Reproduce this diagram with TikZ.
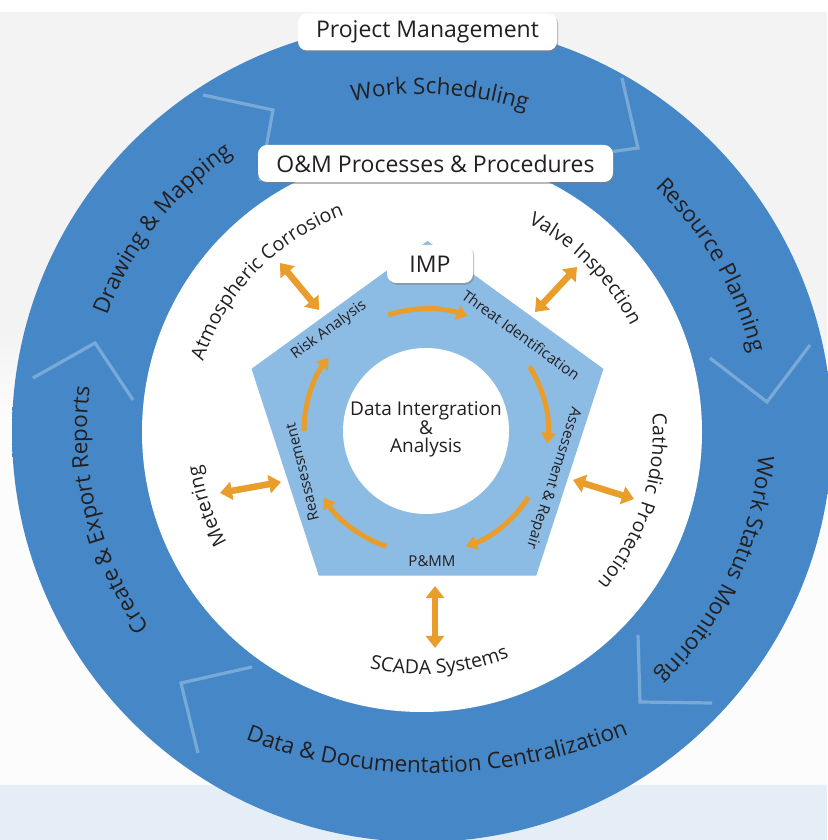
\documentclass[tikz,border=0pt]{standalone}
\usepackage{fontspec}
\setmainfont{Open Sans}
\usetikzlibrary{arrows.meta,shadows,calc}
\definecolor{ringdk}{RGB}{70,136,199}
\definecolor{ringlt}{RGB}{96,160,216}
\definecolor{penta}{RGB}{140,187,227}
\definecolor{orng}{RGB}{233,158,44}
\definecolor{ink}{RGB}{35,31,32}
\definecolor{bggray}{RGB}{243,243,243}
\definecolor{bgwhite}{RGB}{252,252,252}
\definecolor{bgband}{RGB}{229,238,247}
\pgfdeclareradialshading{ringshade}{\pgfpoint{0bp}{0bp}}{color(0bp)=(ringdk); color(34bp)=(ringdk); color(50bp)=(ringlt)}
\newcommand\bigtxt{\fontsize{22.5}{22.5}\selectfont}
\newcommand\midtxt{\fontsize{19.5}{19.5}\selectfont}
% ---- curved text, character by character ----
\newsavebox\ctbox
\makeatletter
\newcommand\ctstrip[1]{\strip@pt#1}
\makeatother
\def\ctendmark{\ctendmark}
\newcommand\curvedtext[6]{% #1 centre, #2 radius, #3 middle angle, #4 dir (1 cw, -1 ccw), #5 font, #6 text
  \def\ctfont{#5}\def\ctc{#1}\def\ctr{#2}\def\ctd{#4}%
  \pgfinterruptpicture\global\setbox\ctbox=\hbox{#5#6}\endpgfinterruptpicture
  \edef\cttot{\ctstrip{\wd\ctbox}}%
  \pgfmathsetmacro\ctang{#3+#4*\cttot/#2*90/pi}%
  \ctloop#6\ctendmark}
\def\ctloop#1{\ifx#1\ctendmark\else\ctchar{#1}\expandafter\ctloop\fi}
\newcommand\ctchar[1]{%
  \pgfinterruptpicture\global\setbox\ctbox=\hbox{\ctfont#1}\endpgfinterruptpicture
  \edef\ctw{\ctstrip{\wd\ctbox}}%
  \pgfmathsetmacro\ctmid{\ctang-\ctd*\ctw/\ctr*90/pi}%
  \pgfmathsetmacro\ctang{\ctang-\ctd*\ctw/\ctr*180/pi}%
  \pgfmathsetmacro\ctrot{\ctmid-\ctd*90}%
  \node[anchor=base, inner sep=0pt, outer sep=0pt, text=ink, rotate=\ctrot, font=\ctfont]
    at ([shift={(\ctmid:\ctr)}]\ctc) {#1};}
\tikzset{
  boxnode/.style={fill=white, rounded corners=9pt, minimum height=37pt, inner xsep=8pt,
    font=\fontsize{23}{23}\selectfont, text=ink,
    drop shadow={shadow xshift=1.2pt, shadow yshift=-1.8pt, opacity=0.55}},
  pentlabel/.style={font=\fontsize{15}{15}\selectfont, text=ink, inner sep=0pt},
  dblarrow/.style={draw=orng, line width=6.5pt,
    {Triangle[width=18pt,length=12pt]}-{Triangle[width=18pt,length=12pt]}},
  cycarrow/.style={draw=orng, line width=5pt, -{Triangle[width=14pt,length=11pt]}},
  chevron/.style={draw=white, draw opacity=0.28, line width=3.2pt},
}
\begin{document}
\begin{tikzpicture}[x=1pt,y=1pt]
\useasboundingbox (0,0) rectangle (827,840);
% background
\fill[white] (0,0) rectangle (827,840);
\fill[bggray] (0,510) rectangle (827,828);
\shade[top color=bggray, bottom color=bgwhite] (0,420) rectangle (827,510);
\fill[bgwhite] (0,55) rectangle (827,420);
\fill[bgband] (0,0) rectangle (827,55);
% centres
\coordinate (O) at (422,408);
\coordinate (D) at (430,595);
\coordinate (H) at (426,409);
\coordinate (P) at (427.5,414);
% ring
\shade[shading=ringshade] (O) circle (410);
\fill[white] (O) circle (280);
% chevrons
\draw[chevron] (622,762) -- (638,692) -- (567,682);
\draw[chevron] (710,482) -- (767,438) -- (810,495);
\draw[chevron] (638,205) -- (640,138) -- (712,137);
\draw[chevron] (252,173) -- (181,157) -- (198,87);
\draw[chevron] (33,462) -- (95,497) -- (133,440);
\draw[chevron] (203,745) -- (273,730) -- (260,659);
% outer ring labels
\curvedtext{O}{338}{87}{1}{\bigtxt}{Work~Scheduling}
\curvedtext{O}{338}{30}{1}{\bigtxt}{Resource~Planning}
\curvedtext{O}{337}{-25}{1}{\bigtxt}{Work~Status~Monitoring}
\curvedtext{D}{528}{-89.2}{-1}{\bigtxt}{Data~\&~Documentation~Centralization}
\curvedtext{O}{335}{194}{1}{\bigtxt}{Create~\&~Export~Reports}
\curvedtext{O}{336}{142}{1}{\bigtxt}{Drawing~\&~Mapping}
% inner circle labels
\curvedtext{O}{230}{136}{1}{\midtxt}{Atmospheric~Corrosion}
\curvedtext{O}{234}{45}{1}{\midtxt}{Valve~Inspection}
\curvedtext{O}{231}{-18}{1}{\midtxt}{Cathodic~\,Protection}
\curvedtext{O}{242}{-85.7}{-1}{\midtxt}{SCADA~Systems}
\curvedtext{O}{224}{199}{1}{\midtxt}{Metering}
% pentagon
\fill[penta] ([shift={(90:185)}]P) -- ([shift={(162:185)}]P) -- ([shift={(234:185)}]P)
  -- ([shift={(306:185)}]P) -- ([shift={(18:185)}]P) -- cycle;
\fill[white] (H) circle (83);
\node[align=center, font=\fontsize{19}{17.5}\selectfont, text=ink] (hub) at (426,411)
  {Data Intergration\\\&\\Analysis};
% pentagon labels
\node[pentlabel, rotate=36] (risk) at (329,510) {Risk Analysis};
\node[pentlabel, rotate=-36] (threat) at (521,505) {Threat Identification};
\node[pentlabel, rotate=-108] (assess) at (553,362) {Assessment \& Repair};
\node[pentlabel] (pmm) at (432,279) {P\&MM};
\node[pentlabel, rotate=104] (reass) at (302,368) {Reassessment};
% cycle arrows
\draw[cycarrow] ([shift={(108:122)}]H) arc[start angle=108, end angle=70, radius=122];
\draw[cycarrow] ([shift={(32:122)}]H) arc[start angle=32, end angle=-6, radius=122];
\draw[cycarrow] ([shift={(-33:122)}]H) arc[start angle=-33, end angle=-71, radius=122];
\draw[cycarrow] ([shift={(-109:122)}]H) arc[start angle=-109, end angle=-147, radius=122];
\draw[cycarrow] ([shift={(180:122)}]H) arc[start angle=180, end angle=143, radius=122];
% double arrows
\coordinate (atmA) at (280,577); \coordinate (atmB) at (319,530);
\coordinate (valA) at (577,573); \coordinate (valB) at (535,528);
\coordinate (catA) at (573,360); \coordinate (catB) at (634,341);
\coordinate (metA) at (220,347); \coordinate (metB) at (281,358);
\coordinate (scaA) at (435,254); \coordinate (scaB) at (435,192);
\draw[dblarrow] (atmA) -- (atmB);
\draw[dblarrow] (valA) -- (valB);
\draw[dblarrow] (catA) -- (catB);
\draw[dblarrow] (metA) -- (metB);
\draw[dblarrow] (scaA) -- (scaB);
% title boxes
\node[boxnode, minimum width=259pt] (pm) at (427.5,808) {Project Management};
\node[boxnode, minimum width=355pt] (om) at (435.5,676.5) {O\&M Processes \& Procedures};
\node[boxnode, minimum width=86pt, minimum height=38pt] (imp) at (430,576) {IMP};
\end{tikzpicture}
\end{document}
